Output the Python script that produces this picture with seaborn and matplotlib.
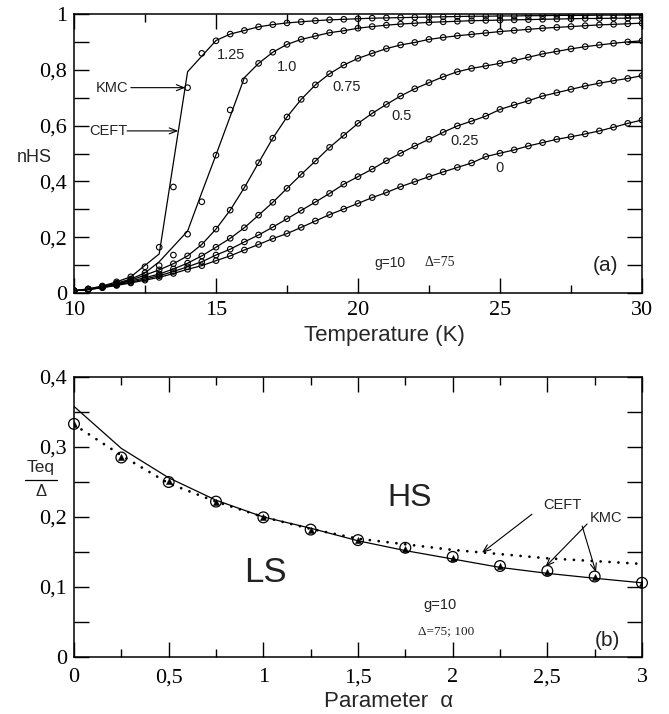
import numpy as np
import pandas as pd
import matplotlib
matplotlib.use("Agg")
import matplotlib.pyplot as plt
import seaborn as sns

# ---------------- panel (a): high-spin fraction vs temperature ----------------
temperature = np.arange(10.0, 30.01, 0.5)
alpha_labels = ["0", "0.25", "0.5", "0.75", "1.0", "1.25"]

# kinetic Monte Carlo points, one list per alpha (T = 10 ... 30 K, step 0.5 K)
kmc_a0 = [0.008, 0.012, 0.019, 0.027, 0.036, 0.046, 0.056, 0.070, 0.085, 0.098,
          0.116, 0.133, 0.154, 0.174, 0.195, 0.213, 0.235, 0.258, 0.281, 0.301,
          0.321, 0.342, 0.360, 0.381, 0.399, 0.417, 0.434, 0.450, 0.466, 0.489,
          0.501, 0.513, 0.527, 0.539, 0.551, 0.560, 0.570, 0.581, 0.594, 0.608,
          0.620]
kmc_a025 = [0.008, 0.012, 0.020, 0.029, 0.039, 0.050, 0.062, 0.077, 0.094, 0.112,
            0.136, 0.157, 0.183, 0.208, 0.236, 0.266, 0.296, 0.326, 0.357, 0.390,
            0.417, 0.444, 0.474, 0.501, 0.527, 0.551, 0.576, 0.599, 0.616, 0.634,
            0.658, 0.674, 0.689, 0.706, 0.718, 0.730, 0.742, 0.752, 0.761, 0.769,
            0.779]
kmc_a05 = [0.008, 0.013, 0.021, 0.031, 0.043, 0.055, 0.068, 0.086, 0.107, 0.133,
           0.164, 0.196, 0.234, 0.279, 0.325, 0.375, 0.425, 0.473, 0.522, 0.565,
           0.608, 0.644, 0.676, 0.706, 0.732, 0.754, 0.775, 0.793, 0.805, 0.814,
           0.823, 0.833, 0.845, 0.857, 0.866, 0.875, 0.883, 0.889, 0.895, 0.900,
           0.904]
kmc_a075 = [0.008, 0.013, 0.022, 0.033, 0.046, 0.064, 0.083, 0.105, 0.133, 0.174,
            0.229, 0.297, 0.378, 0.467, 0.555, 0.631, 0.694, 0.746, 0.786, 0.817,
            0.841, 0.859, 0.876, 0.889, 0.898, 0.909, 0.916, 0.922, 0.927, 0.932,
            0.937, 0.941, 0.945, 0.949, 0.952, 0.955, 0.958, 0.961, 0.963, 0.965,
            0.967]
kmc_a1 = [0.008, 0.014, 0.023, 0.035, 0.050, 0.072, 0.098, 0.136, 0.211, 0.327,
          0.494, 0.656, 0.761, 0.823, 0.863, 0.891, 0.909, 0.921, 0.933, 0.940,
          0.949, 0.955, 0.960, 0.964, 0.967, 0.970, 0.972, 0.974, 0.976, 0.977,
          0.978, 0.979, 0.980, 0.981, 0.982, 0.983, 0.984, 0.984, 0.985, 0.985,
          0.986]
kmc_a125 = [0.008, 0.015, 0.025, 0.040, 0.058, 0.094, 0.164, 0.380, 0.736, 0.859,
            0.904, 0.928, 0.941, 0.954, 0.962, 0.968, 0.972, 0.976, 0.979, 0.981,
            0.983, 0.985, 0.986, 0.987, 0.988, 0.989, 0.990, 0.991, 0.992, 0.992,
            0.993, 0.993, 0.994, 0.994, 0.995, 0.995, 0.995, 0.996, 0.996, 0.996,
            0.997]

# mean-field (CEFT) curves; for alpha <= 0.75 they run through the KMC points
ceft_a1 = [0.008, 0.014, 0.023, 0.035, 0.050, 0.072, 0.112, 0.167, 0.222, 0.360,
           0.495, 0.633, 0.772, 0.823, 0.863, 0.891, 0.909, 0.921, 0.933, 0.940,
           0.949, 0.955, 0.960, 0.964, 0.967, 0.970, 0.972, 0.974, 0.976, 0.977,
           0.978, 0.979, 0.980, 0.981, 0.982, 0.983, 0.984, 0.984, 0.985, 0.985,
           0.986]
ceft_a125 = [0.008, 0.015, 0.025, 0.040, 0.058, 0.099, 0.140, 0.467, 0.793, 0.849,
             0.905, 0.928, 0.941, 0.954, 0.962, 0.968, 0.972, 0.976, 0.979, 0.981,
             0.983, 0.985, 0.986, 0.987, 0.988, 0.989, 0.990, 0.991, 0.992, 0.992,
             0.993, 0.993, 0.994, 0.994, 0.995, 0.995, 0.995, 0.996, 0.996, 0.996,
             0.997]

# ---------------- panel (b): Teq / Delta vs alpha ----------------
alpha = [0, 0.25, 0.5, 0.75, 1.0, 1.25, 1.5, 1.75, 2.0, 2.25, 2.5, 2.75, 3.0]
teq_kmc_75 = [0.333, 0.285, 0.250, 0.222, 0.1995, 0.182, 0.167, 0.156, 0.143,
              0.130, 0.123, 0.115, 0.106]
teq_kmc_100 = [0.333, 0.286, 0.251, 0.222, 0.200, 0.182, 0.167, 0.154, 0.142,
               0.130, 0.122, 0.114, 0.106]
teq_solid = [0.358, 0.298, 0.256, 0.224, 0.200, 0.184, 0.166, 0.152, 0.140,
             0.128, 0.1195, 0.1125, 0.106]
teq_ceft = [0.332, 0.288, 0.248, 0.222, 0.200, 0.183, 0.169, 0.161, 0.153,
            0.147, 0.141, 0.137, 0.133]

# ---------------- style ----------------
sns.set_theme(style="ticks")
plt.rcParams["font.family"] = ["Liberation Serif", "DejaVu Serif"]
plt.rcParams["axes.linewidth"] = 1.1
SANS = ["Liberation Sans", "DejaVu Sans"]

fig = plt.figure(figsize=(6.69, 7.14), dpi=100)
fig.patch.set_facecolor("white")
ax1 = fig.add_axes([74 / 669, 1 - 293 / 714, 568 / 669, 279 / 714])
ax2 = fig.add_axes([74 / 669, 1 - 657 / 714, 568 / 669, 280 / 714])

kmc_sets = [kmc_a0, kmc_a025, kmc_a05, kmc_a075, kmc_a1, kmc_a125]
ceft_sets = [kmc_a0, kmc_a025, kmc_a05, kmc_a075, ceft_a1, ceft_a125]

frames = []
for lab, kv, cv in zip(alpha_labels, kmc_sets, ceft_sets):
    frames.append(pd.DataFrame({"T": temperature, "kmc": kv, "ceft": cv, "alpha": lab}))
df_a = pd.concat(frames, ignore_index=True)

sns.lineplot(data=df_a, x="T", y="ceft", units="alpha", estimator=None,
             color="black", linewidth=0.9, ax=ax1, legend=False)
sns.scatterplot(data=df_a, x="T", y="kmc", marker="o", s=16,
                facecolor="none", edgecolor="black", linewidth=0.8,
                ax=ax1, legend=False, zorder=3)

ax1.set_xlim(10, 30)
ax1.set_ylim(0, 1)
ax1.set_xticks([10, 15, 20, 25, 30])
ax1.set_xticks([12.5, 17.5, 22.5, 27.5], minor=True)
ax1.set_xticklabels(["10", "15", "20", "25", "30"])
yt1 = [0, 0.1, 0.2, 0.3, 0.4, 0.5, 0.6, 0.7, 0.8, 0.9, 1.0]
ax1.set_yticks(yt1)
ax1.set_yticklabels(["0", "", "0,2", "", "0,4", "", "0,6", "", "0,8", "", "1"])
ax1.set_xlabel("")
ax1.set_ylabel("")

# curve labels
curve_text = {"1.25": (15.53, 0.853), "1.0": (17.5, 0.81), "0.75": (19.61, 0.738),
              "0.5": (21.55, 0.634), "0.25": (23.77, 0.545), "0": (25.0, 0.448)}
for lab, (tx, ty) in curve_text.items():
    ax1.text(tx, ty, lab, family=SANS, fontsize=10.5, ha="center", va="center",
             color="#222222")

arrow = dict(arrowstyle="->,head_length=0.45,head_width=0.18", lw=0.8,
             color="black", shrinkA=0, shrinkB=0)
ax1.text(11.34, 0.735, "KMC", family=SANS, fontsize=10.5, ha="center", va="center",
         color="#222222")
ax1.annotate("", xy=(13.92, 0.736), xytext=(12.0, 0.736), arrowprops=arrow)
ax1.text(11.2, 0.581, "CEFT", family=SANS, fontsize=10.5, ha="center", va="center",
         color="#222222")
ax1.annotate("", xy=(13.67, 0.581), xytext=(11.87, 0.581), arrowprops=arrow)

ax1.text(21.13, 0.108, "g=10", family=SANS, fontsize=10, ha="center", va="center",
         color="#222222")
ax1.text(22.89, 0.108, "Δ=75", fontsize=10, ha="center", va="center", color="#222222")
ax1.text(28.73, 0.10, "(a)", family=SANS, fontsize=15, ha="center", va="center",
         color="#222222")

ax1.text(-0.0704, 0.487, "nHS", family=SANS, fontsize=13, ha="center", va="center",
         transform=ax1.transAxes)
ax1.text(0.546, -0.152, "Temperature (K)", family=SANS, fontsize=16, ha="center",
         va="center", transform=ax1.transAxes)

# ---------------- panel (b) drawing ----------------
df_b = pd.DataFrame({"alpha": alpha, "kmc75": teq_kmc_75, "kmc100": teq_kmc_100,
                     "solid": teq_solid, "ceft": teq_ceft})
sns.lineplot(data=df_b, x="alpha", y="solid", color="black", linewidth=0.9, ax=ax2)
sns.lineplot(data=df_b, x="alpha", y="ceft", color="black", linewidth=2.0,
             linestyle=(0, (0.01, 3.2)), dash_capstyle="round", ax=ax2)
sns.scatterplot(data=df_b, x="alpha", y="kmc100", marker="^", s=20, color="black",
                edgecolor="black", linewidth=0.3, ax=ax2, zorder=3)
sns.scatterplot(data=df_b, x="alpha", y="kmc75", marker="o", s=60,
                facecolor="none", edgecolor="black", linewidth=0.9, ax=ax2, zorder=4,
                clip_on=False)

ax2.set_xlim(0, 3)
ax2.set_ylim(0, 0.4)
ax2.set_xticks([0, 0.5, 1, 1.5, 2, 2.5, 3])
ax2.set_xticklabels(["0", "0,5", "1", "1,5", "2", "2,5", "3"])
ax2.set_xticks([0.25, 0.75, 1.25, 1.75, 2.25, 2.75], minor=True)
yt2 = [0, 0.05, 0.1, 0.15, 0.2, 0.25, 0.3, 0.35, 0.4]
ax2.set_yticks(yt2)
ax2.set_yticklabels(["0", "", "0,1", "", "0,2", "", "0,3", "", "0,4"])
ax2.set_xlabel("")
ax2.set_ylabel("")

ax2.text(1.775, 0.227, "HS", family=SANS, fontsize=23, ha="center", va="center",
         color="#222222")
ax2.text(1.009, 0.12, "LS", family=SANS, fontsize=25, ha="center", va="center",
         color="#222222")
ax2.text(2.578, 0.217, "CEFT", family=SANS, fontsize=10.5, ha="center", va="center",
         color="#222222")
ax2.annotate("", xy=(2.155, 0.149), xytext=(2.419, 0.204), arrowprops=arrow)
ax2.text(2.81, 0.1986, "KMC", family=SANS, fontsize=10.5, ha="center", va="center",
         color="#222222")
ax2.annotate("", xy=(2.49, 0.129), xytext=(2.71, 0.19), arrowprops=arrow)
ax2.annotate("", xy=(2.757, 0.121), xytext=(2.684, 0.187), arrowprops=arrow)
ax2.text(1.933, 0.0743, "g=10", family=SANS, fontsize=10.5, ha="center", va="center",
         color="#222222")
ax2.text(1.965, 0.037, "Δ=75; 100", fontsize=9.5, ha="center", va="center",
         color="#222222")
ax2.text(2.82, 0.0229, "(b)", family=SANS, fontsize=15, ha="center", va="center",
         color="#222222")

ax2.text(-0.058, 0.676, "Teq", family=SANS, fontsize=12.5, ha="center", va="center",
         transform=ax2.transAxes)
ax2.plot([-0.086, -0.030], [0.632, 0.632], color="black", lw=0.9,
         transform=ax2.transAxes, clip_on=False)
ax2.text(-0.058, 0.590, "Δ", family=SANS, fontsize=12, ha="center", va="center",
         transform=ax2.transAxes)
ax2.text(0.553, -0.158, "Parameter  α", family=SANS, fontsize=16, ha="center",
         va="center", transform=ax2.transAxes)

for ax, xpad in ((ax1, 6), (ax2, 8)):
    ax.tick_params(which="both", direction="in", top=True, right=True,
                   width=1.0, colors="black", labelsize=16)
    ax.tick_params(which="major", length=10.8)
    ax.tick_params(which="minor", length=5.5)
    ax.tick_params(axis="y", which="major", length=10.8, pad=5)
    ax.tick_params(axis="x", which="major", pad=xpad)
    for sp in ax.spines.values():
        sp.set_visible(True)
        sp.set_color("black")
        sp.set_linewidth(1.1)
    ax.set_facecolor("white")

fig.savefig("out.png", dpi=100, facecolor="white")
